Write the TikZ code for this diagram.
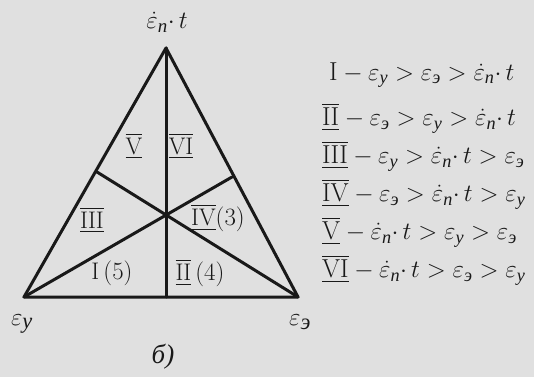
\documentclass[tikz,border=0pt]{standalone}
\usepackage{amsmath}
\usepackage{fontspec}
\newfontfamily\cyrfont{Liberation Serif}
\newcommand{\cyit}[1]{\text{\cyrfont\itshape #1}}
\newcommand{\epsy}{\varepsilon_{\cyit{у}}}
\newcommand{\epse}{\varepsilon_{\cyit{э}}}
\newcommand{\epsnt}{\dot{\varepsilon}_{\cyit{п}}{\cdot}\, t}
\newcommand{\romn}[1]{\overline{\underline{\mathrm{#1}}}}
\definecolor{paper}{RGB}{224,224,224}
\definecolor{ink}{RGB}{25,25,25}
\tikzset{
  edge/.style={draw=ink, line width=3pt, line join=round, line cap=round},
  region/.style={text=ink, font=\fontsize{24}{26}\selectfont, inner sep=0pt},
  vert/.style={text=ink, font=\fontsize{27}{30}\selectfont, inner sep=0pt},
  bigvert/.style={text=ink, font=\fontsize{32}{34}\selectfont, inner sep=0pt},
  rule/.style={text=ink, font=\fontsize{26}{28}\selectfont, inner sep=0pt, anchor=west}
}
\begin{document}
\begin{tikzpicture}[x=1pt,y=-1pt]
\fill[paper] (0,0) rectangle (534,377);
\useasboundingbox (0,0) rectangle (534,377);
\coordinate (A) at (166,48);
\coordinate (B) at (24,297);
\coordinate (C) at (298,297);
\coordinate (O) at (166,215);
\coordinate (Mb) at (166,297);
\coordinate (Ml) at (97,172);
\coordinate (Mr) at (232,177);
\draw[edge] (A) -- (B) -- (C) -- cycle;
\draw[edge] (A) -- (Mb);
\draw[edge] (B) -- (Mr);
\draw[edge] (C) -- (Ml);
\node[vert] (tA) at (167,22) {$\epsnt$};
\node[bigvert] (tB) at (22,324) {$\epsy$};
\node[bigvert] (tC) at (300,322) {$\epse$};
\node[vert] (cap) at (163,357) {\cyrfont\itshape б)};
\node[region] (r5) at (134,146) {$\romn{V}$};
\node[region] (r6) at (181,146) {$\romn{VI}$};
\node[region] (r3) at (92,220) {$\romn{III}$};
\node[region] (r4) at (218,218) {$\romn{IV}(3)$};
\node[region] (r1) at (112,273) {$\mathrm{I}\,(5)$};
\node[region] (r2) at (200,273) {$\romn{II}\,(4)$};
\node[rule] (l1) at (329,75) {$\mathrm{I} - \epsy > \epse > \epsnt$};
\node[rule] (l2) at (322,118) {$\romn{II} - \epse > \epsy > \epsnt$};
\node[rule] (l3) at (322,156) {$\romn{III} - \epsy > \epsnt > \epse$};
\node[rule] (l4) at (322,194) {$\romn{IV} - \epse > \epsnt > \epsy$};
\node[rule] (l5) at (322,232) {$\romn{V} - \epsnt > \epsy > \epse$};
\node[rule] (l6) at (322,270) {$\romn{VI} - \epsnt > \epse > \epsy$};
\end{tikzpicture}
\end{document}
